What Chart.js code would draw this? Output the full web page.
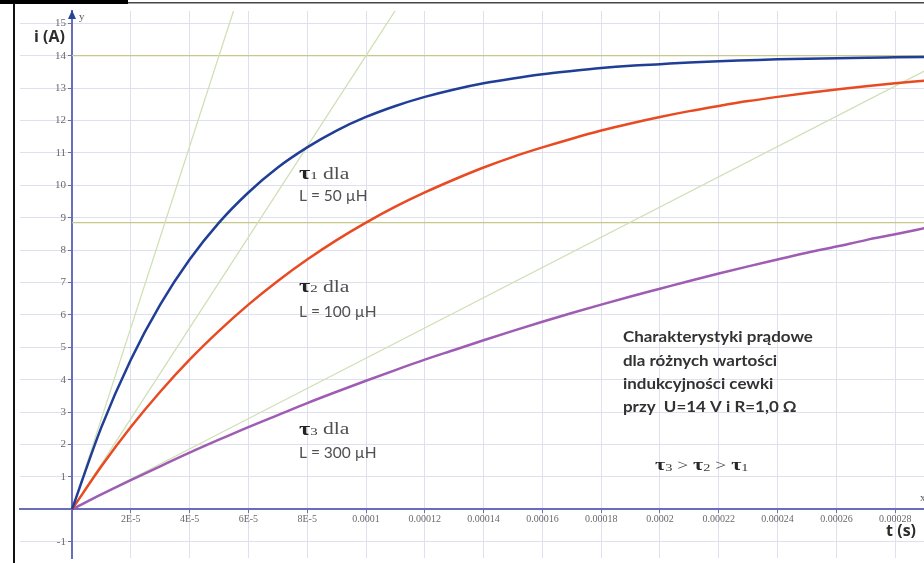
<!DOCTYPE html>
<html><head><meta charset="utf-8">
<script src="https://cdn.jsdelivr.net/npm/chart.js@4.4.1/dist/chart.umd.min.js"></script>
<style>html,body{margin:0;padding:0;background:#fff;}#wrap{width:924px;height:563px;position:relative;overflow:hidden}</style>
</head><body><div id="wrap"><canvas id="c" width="924" height="563"></canvas></div>
<script>
// time samples (s)
const timeSeconds = [0,1e-5,2e-5,3e-5,4e-5,5e-5,6e-5,7e-5,8e-5,9e-5,1e-4,1.1e-4,1.2e-4,1.3e-4,1.4e-4,1.5e-4,1.6e-4,1.7e-4,1.8e-4,1.9e-4,2e-4,2.1e-4,2.2e-4,2.3e-4,2.4e-4,2.5e-4,2.6e-4,2.7e-4,2.8e-4,2.9e-4];
// current (A)
const currentL50  = [0,2.54,4.62,6.32,7.71,8.85,9.78,10.55,11.17,11.69,12.11,12.45,12.73,12.96,13.15,13.30,13.43,13.53,13.62,13.69,13.74,13.79,13.83,13.86,13.89,13.91,13.92,13.94,13.95,13.96];
const currentL100 = [0,1.33,2.54,3.63,4.62,5.51,6.32,7.05,7.71,8.31,8.85,9.34,9.78,10.18,10.55,10.88,11.17,11.44,11.69,11.91,12.11,12.29,12.45,12.60,12.73,12.85,12.96,13.06,13.15,13.23];
const currentL300 = [0,0.46,0.90,1.33,1.75,2.15,2.54,2.91,3.28,3.63,3.97,4.30,4.62,4.92,5.22,5.51,5.79,6.06,6.32,6.57,6.81,7.05,7.28,7.50,7.71,7.92,8.11,8.31,8.49,8.68];
// helper lines (tangents at t=0 and levels)
const tangentT = [0, 3e-4];
const tangentL50  = [0, 84];
const tangentL100 = [0, 42];
const tangentL300 = [0, 14];
const levelT = [0, 2.95e-4];
const levelFinal = [14, 14];
const levelTau = [8.85, 8.85];
// ticks
const xTickValues = [0,2e-5,4e-5,6e-5,8e-5,1e-4,1.2e-4,1.4e-4,1.6e-4,1.8e-4,2e-4,2.2e-4,2.4e-4,2.6e-4,2.8e-4];
const xTickLabels = ['','2E-5','4E-5','6E-5','8E-5','0.0001','0.00012','0.00014','0.00016','0.00018','0.0002','0.00022','0.00024','0.00026','0.00028'];
const yTickValues = [-1,0,1,2,3,4,5,6,7,8,9,10,11,12,13,14,15];
const yTickLabels = ['-1','','1','2','3','4','5','6','7','8','9','10','11','12','13','14','15'];

const pts = (xs, ys) => ys.map((y, i) => ({x: xs[i], y}));

const AXIS = 'rgb(104,110,186)';
const GRID = 'rgb(222,224,238)';
const TANGENT = 'rgb(208,224,182)';
const LEVEL = 'rgb(198,200,140)';

function rich(ctx, x, y, parts, sx) {
  ctx.save();
  ctx.translate(x, y);
  ctx.scale(sx || 1, 1);
  ctx.textBaseline = 'middle';
  ctx.textAlign = 'left';
  let cx = 0;
  for (const p of parts) {
    ctx.font = p.font;
    ctx.fillStyle = p.color;
    ctx.fillText(p.t, cx, p.dy || 0);
    cx += ctx.measureText(p.t).width;
  }
  ctx.restore();
}
const tauParts = (n, tail) => [
  {t: 'τ', font: 'bold 18px "Liberation Serif"', color: 'rgb(35,35,35)'},
  {t: n, font: '11px "Liberation Serif"', color: 'rgb(60,60,60)', dy: 2},
  {t: tail, font: '16px "Liberation Serif"', color: 'rgb(80,80,80)'}
];
const LFONT = '15.5px Lato', LCOL = 'rgb(80,80,80)';
const MFONT = 'bold 15px Lato', MCOL = 'rgb(50,50,50)';
const annotations = [
  {x: 7.72e-5, y: 10.34, sx: 1.35, parts: tauParts('1', ' dla')},
  {x: 7.72e-5, y: 9.66, sx: 1.0, parts: [{t: 'L = 50 µH', font: LFONT, color: LCOL}]},
  {x: 7.72e-5, y: 6.85, sx: 1.35, parts: tauParts('2', ' dla')},
  {x: 7.72e-5, y: 6.10, sx: 1.0, parts: [{t: 'L = 100 µH', font: LFONT, color: LCOL}]},
  {x: 7.72e-5, y: 2.45, sx: 1.35, parts: tauParts('3', ' dla')},
  {x: 7.72e-5, y: 1.75, sx: 1.0, parts: [{t: 'L = 300 µH', font: LFONT, color: LCOL}]},
  {x: 1.874e-4, y: 5.30, sx: 1.13, parts: [{t: 'Charakterystyki prądowe', font: MFONT, color: MCOL}]},
  {x: 1.874e-4, y: 4.58, sx: 1.13, parts: [{t: 'dla różnych wartości', font: MFONT, color: MCOL}]},
  {x: 1.874e-4, y: 3.87, sx: 1.13, parts: [{t: 'indukcyjności cewki', font: MFONT, color: MCOL}]},
  {x: 1.874e-4, y: 3.16, sx: 1.13, parts: [{t: 'przy  U=14 V i R=1,0 Ω', font: MFONT, color: MCOL}]},
  {x: 1.983e-4, y: 1.34, sx: 1.3, parts: [
    {t: 'τ', font: 'bold 17px "Liberation Serif"', color: 'rgb(40,40,40)'},
    {t: '3', font: '11px "Liberation Serif"', color: 'rgb(60,60,60)', dy: 2},
    {t: ' > ', font: '15px "Liberation Serif"', color: 'rgb(60,60,60)'},
    {t: 'τ', font: 'bold 17px "Liberation Serif"', color: 'rgb(40,40,40)'},
    {t: '2', font: '11px "Liberation Serif"', color: 'rgb(60,60,60)', dy: 2},
    {t: ' > ', font: '15px "Liberation Serif"', color: 'rgb(60,60,60)'},
    {t: 'τ', font: 'bold 17px "Liberation Serif"', color: 'rgb(40,40,40)'},
    {t: '1', font: '11px "Liberation Serif"', color: 'rgb(60,60,60)', dy: 2}
  ]}
];

const decor = {
  id: 'decor',
  beforeDraw(chart) {
    const ctx = chart.ctx;
    ctx.save();
    ctx.fillStyle = '#fff';
    ctx.fillRect(0, 0, chart.width, chart.height);
    ctx.restore();
  },
  afterDraw(chart) {
    const ctx = chart.ctx, xs = chart.scales.x, ys = chart.scales.y;
    const ax = xs.getPixelForValue(0), ay = ys.getPixelForValue(0), top = chart.chartArea.top;
    ctx.save();
    // tick labels placed via the scales
    ctx.fillStyle = 'rgb(105,105,105)';
    ctx.font = '11px "Liberation Serif"';
    ctx.textAlign = 'right'; ctx.textBaseline = 'middle';
    yTickValues.forEach((v, i) => ctx.fillText(yTickLabels[i], ax - 6, ys.getPixelForValue(v)));
    ctx.font = '10px "Liberation Serif"';
    ctx.textAlign = 'center';
    xTickValues.forEach((v, i) => ctx.fillText(xTickLabels[i], xs.getPixelForValue(v), ay + 10));
    for (const a of annotations) rich(ctx, xs.getPixelForValue(a.x), ys.getPixelForValue(a.y), a.parts, a.sx);
    ctx.fillStyle = 'rgb(40,70,150)';
    ctx.beginPath();
    ctx.moveTo(ax, top - 1); ctx.lineTo(ax - 4, top + 8); ctx.lineTo(ax + 4, top + 8); ctx.closePath(); ctx.fill();
    ctx.fillStyle = 'rgb(90,90,90)';
    ctx.font = '11px "Liberation Serif"';
    ctx.textAlign = 'left'; ctx.textBaseline = 'middle';
    ctx.fillText('y', ax + 7, top + 6);
    ctx.fillText('x', chart.chartArea.right - 4, ay - 11);
    ctx.fillStyle = 'rgb(45,45,45)';
    ctx.font = 'bold 16px "Open Sans"';
    ctx.textAlign = 'right';
    ctx.fillText('i (A)', ax - 7, ys.getPixelForValue(14.55));
    ctx.fillText('t (s)', chart.chartArea.right - 8, ys.getPixelForValue(-0.68));
    ctx.fillStyle = '#000';
    ctx.fillRect(0, 0, 128, 4);
    ctx.fillStyle = 'rgb(70,70,70)';
    ctx.fillRect(128, 2, chart.width - 128, 1.5);
    ctx.fillStyle = '#111';
    ctx.fillRect(13, 3, 2, chart.height);
    ctx.restore();
  }
};

new Chart(document.getElementById('c'), {
  type: 'scatter',
  data: {
    datasets: [
      {data: pts(timeSeconds, currentL50), borderColor: 'rgb(32,62,150)', borderWidth: 2.5, order: 0},
      {data: pts(timeSeconds, currentL100), borderColor: 'rgb(232,74,34)', borderWidth: 2.5, order: 0},
      {data: pts(timeSeconds, currentL300), borderColor: 'rgb(158,92,178)', borderWidth: 2.5, order: 0},
      {data: pts(tangentT, tangentL50), borderColor: TANGENT, borderWidth: 1.3, order: 2, tension: 0},
      {data: pts(tangentT, tangentL100), borderColor: TANGENT, borderWidth: 1.3, order: 2, tension: 0},
      {data: pts(tangentT, tangentL300), borderColor: TANGENT, borderWidth: 1.3, order: 2, tension: 0},
      {data: pts(levelT, levelFinal), borderColor: LEVEL, borderWidth: 1.3, order: 2, tension: 0},
      {data: pts(levelT, levelTau), borderColor: LEVEL, borderWidth: 1.3, order: 2, tension: 0}
    ]
  },
  options: {
    responsive: false,
    devicePixelRatio: 1,
    animation: false,
    showLine: true,
    layout: {padding: {left: 20, top: 11, right: 0, bottom: 5}},
    elements: {point: {radius: 0}, line: {cubicInterpolationMode: 'monotone', fill: false}},
    plugins: {legend: {display: false}, tooltip: {enabled: false}},
    scales: {
      x: {
        type: 'linear', position: {y: 0},
        min: -1.769e-5, max: 2.898e-4,
        afterBuildTicks: s => { s.ticks = xTickValues.map(v => ({value: v})); },
        ticks: {display: false},
        grid: {color: GRID, lineWidth: 1, drawTicks: true, tickLength: 3, tickColor: AXIS},
        border: {display: true, color: AXIS, width: 2}
      },
      y: {
        type: 'linear', position: {x: 0},
        min: -1.50, max: 15.38,
        afterBuildTicks: s => { s.ticks = yTickValues.map(v => ({value: v})); },
        ticks: {display: false},
        grid: {color: GRID, lineWidth: 1, drawTicks: true, tickLength: 3, tickColor: AXIS},
        border: {display: true, color: AXIS, width: 2}
      }
    }
  },
  plugins: [decor]
});
</script></body></html>
